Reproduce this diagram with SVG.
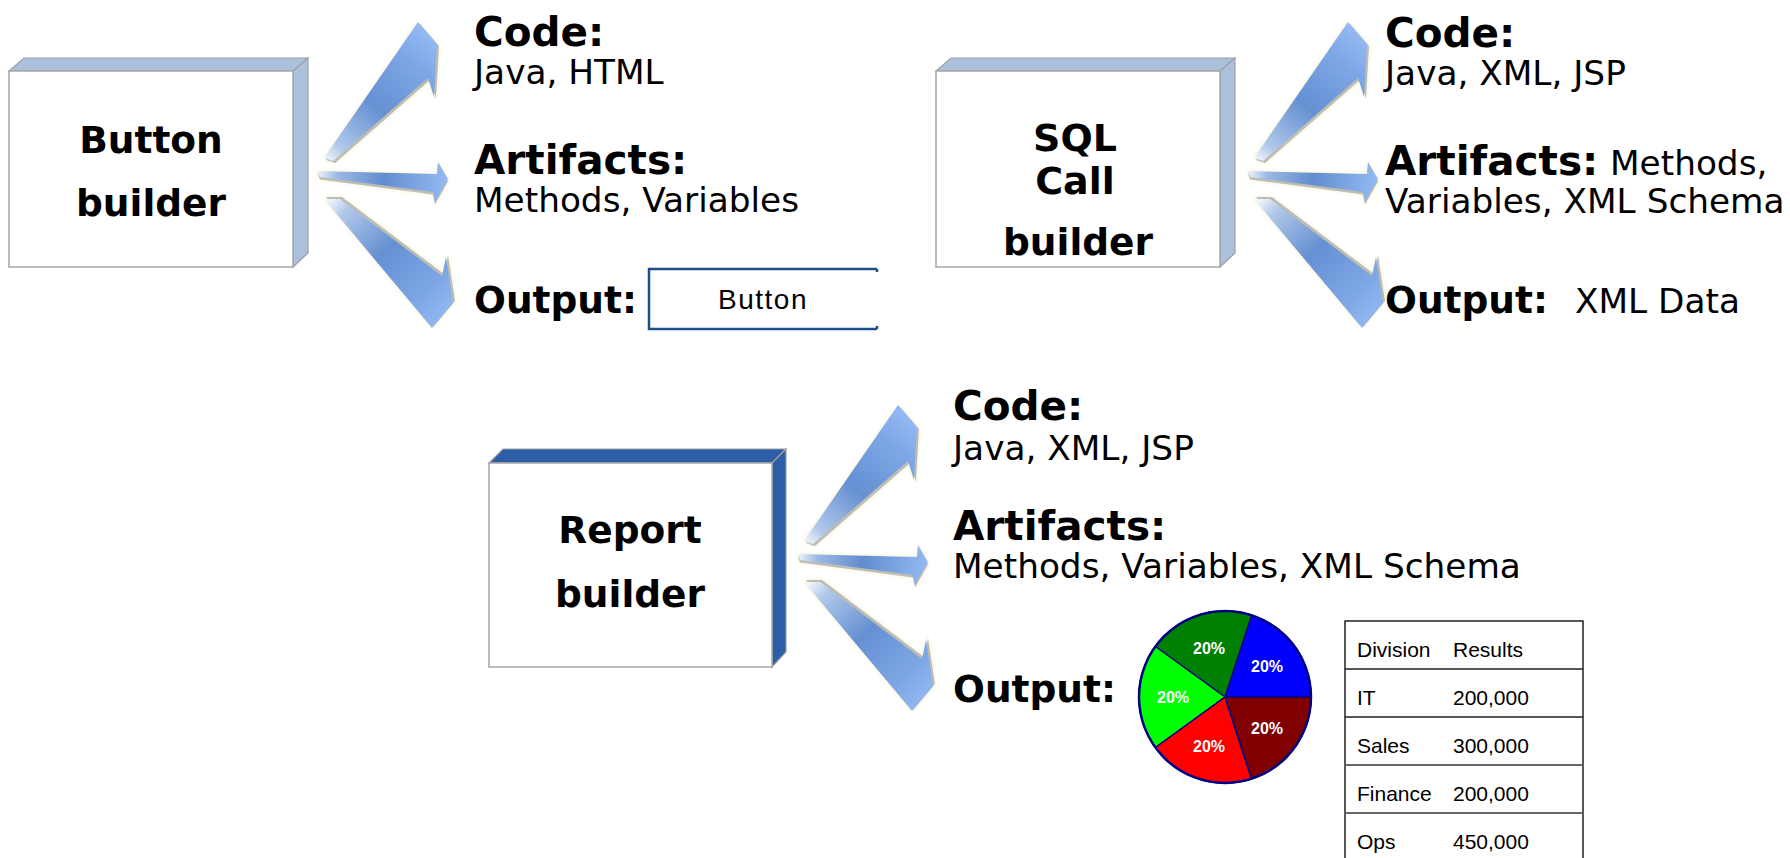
<svg xmlns="http://www.w3.org/2000/svg" xmlns:xlink="http://www.w3.org/1999/xlink" width="1790" height="858" viewBox="0 0 1790 858">
<style>
.title{font-family:"DejaVu Sans",Verdana,sans-serif;font-weight:bold;font-size:37.5px;fill:#000;text-anchor:middle}
.head{font-family:"DejaVu Sans",Verdana,sans-serif;font-weight:bold;font-size:40.5px;fill:#000}
.out{font-family:"DejaVu Sans",Verdana,sans-serif;font-weight:bold;font-size:37.5px;fill:#000}
.body{font-family:"DejaVu Sans",Verdana,sans-serif;font-size:34.3px;fill:#000}
.front{fill:#fff;stroke:#a6a6a6;stroke-width:1.5}
.face{fill:#abc0dc;stroke:#a0a0a0;stroke-width:1.2}
.faceDark{fill:#2b5ea6;stroke:#a0a0a0;stroke-width:1.2}
.pct{font-family:"Liberation Sans",Arial,sans-serif;font-weight:bold;font-size:16px;fill:#fff;text-anchor:middle}
.tbl{font-family:"Liberation Sans",Arial,sans-serif;font-size:21px;fill:#000}
.shadow{fill:#bdbdb3}
</style>
<defs>
<linearGradient id="gUp" gradientUnits="userSpaceOnUse" x1="325" y1="160" x2="432" y2="35">
<stop offset="0" stop-color="#f4f7fc"/><stop offset="0.12" stop-color="#b0c8ea"/><stop offset="0.45" stop-color="#6590d2"/><stop offset="0.8" stop-color="#7ea7e6"/><stop offset="1" stop-color="#94baf3"/>
</linearGradient>
<linearGradient id="gMid" gradientUnits="userSpaceOnUse" x1="318" y1="175" x2="448" y2="182">
<stop offset="0" stop-color="#eef3fb"/><stop offset="0.15" stop-color="#9ab8e5"/><stop offset="0.5" stop-color="#628dcf"/><stop offset="1" stop-color="#94baf3"/>
</linearGradient>
<linearGradient id="gDown" gradientUnits="userSpaceOnUse" x1="328" y1="200" x2="445" y2="322">
<stop offset="0" stop-color="#f4f7fc"/><stop offset="0.12" stop-color="#b0c8ea"/><stop offset="0.45" stop-color="#6590d2"/><stop offset="0.8" stop-color="#7ea7e6"/><stop offset="1" stop-color="#94baf3"/>
</linearGradient>
<filter id="glow" x="-20%" y="-20%" width="140%" height="140%">
<feGaussianBlur in="SourceAlpha" stdDeviation="2" result="b"/>
<feFlood flood-color="#f3efcf" result="c"/>
<feComposite in="c" in2="b" operator="in" result="g"/>
<feMerge><feMergeNode in="g"/><feMergeNode in="SourceGraphic"/></feMerge>
</filter>
<path id="pUp" d="M324,158 L418,22 L437,44 L434,97 L428,78 L333,161 Z"/>
<path id="pMid" d="M318,171 L437,174 L438,162 L448,179 L435,202 L433,192 L320,177 Z"/>
<path id="pDown" d="M324,199 L340,199 L442,276 L446,257 L453,303 L432,328 Z"/>
<g id="arrowSet">
<g filter="url(#glow)">
<use xlink:href="#pUp" class="shadow" transform="translate(2,2)"/>
<use xlink:href="#pUp" fill="url(#gUp)"/>
</g>
<g filter="url(#glow)">
<use xlink:href="#pMid" class="shadow" transform="translate(0,2.5)"/>
<use xlink:href="#pMid" fill="url(#gMid)"/>
</g>
<g filter="url(#glow)">
<use xlink:href="#pDown" class="shadow" transform="translate(2,-2)"/>
<use xlink:href="#pDown" fill="url(#gDown)"/>
</g>
</g>
</defs>
<rect width="1790" height="858" fill="#fff"/>

<g id="connectors">
<use xlink:href="#arrowSet"/>
<use xlink:href="#arrowSet" transform="translate(930,0)"/>
<use xlink:href="#arrowSet" transform="translate(480,383)"/>
</g>

<g id="node-button-builder">
<polygon class="face" points="9,71 24,58 308,58 293,71"/>
<polygon class="face" points="293,71 308,58 308,253 293,267"/>
<rect class="front" x="9" y="71" width="284" height="196"/>
<text class="title" x="151" y="153">Button</text>
<text class="title" x="151" y="216">builder</text>
</g>

<g id="node-sql-call-builder">
<polygon class="face" points="936,71 951,58 1235,58 1220,71"/>
<polygon class="face" points="1220,71 1235,58 1235,253 1220,267"/>
<rect class="front" x="936" y="71" width="284" height="196"/>
<text class="title" x="1075" y="151" style="font-size:38px">SQL</text>
<text class="title" x="1075" y="194" style="font-size:38px">Call</text>
<text class="title" x="1078" y="255">builder</text>
</g>

<g id="node-report-builder">
<polygon class="faceDark" points="489,463 503,449 786,449 772,463"/>
<polygon class="faceDark" points="772,463 786,449 786,652 772,667"/>
<rect class="front" x="489" y="463" width="283" height="204"/>
<text class="title" x="630" y="543">Report</text>
<text class="title" x="630" y="607">builder</text>
</g>

<g id="info-button">
<text class="head" x="474" y="46">Code:</text>
<text class="body" x="474" y="84">Java, HTML</text>
<text class="head" x="474" y="174">Artifacts:</text>
<text class="body" x="474" y="212">Methods, Variables</text>
<text class="out" x="474" y="313">Output:</text>
<g id="output-button">
<path d="M877,269 H649 V329 H877" fill="none" stroke="#1f4e8c" stroke-width="2.5"/>
<path d="M877,269 v3 M877,329 v-3" fill="none" stroke="#1f4e8c" stroke-width="2.5"/>
<text x="763" y="309" font-family="'Liberation Sans',Arial,sans-serif" font-size="28" letter-spacing="1.5" text-anchor="middle" fill="#000">Button</text>
</g>
</g>

<g id="info-sql">
<text class="head" x="1385" y="47">Code:</text>
<text class="body" x="1385" y="85">Java, XML, JSP</text>
<text x="1385" y="175"><tspan class="head">Artifacts:</tspan><tspan class="body" x="1610">Methods,</tspan></text>
<text class="body" x="1385" y="213">Variables, XML Schema</text>
<text class="out" x="1385" y="313">Output:</text>
<text class="body" x="1575" y="313">XML Data</text>
</g>

<g id="info-report">
<text class="head" x="953" y="420">Code:</text>
<text class="body" x="953" y="460">Java, XML, JSP</text>
<text class="head" x="953" y="540">Artifacts:</text>
<text class="body" x="953" y="578">Methods, Variables, XML Schema</text>
<text class="out" x="953" y="702">Output:</text>
</g>

<g id="output-pie" stroke="#000080" stroke-width="1.5" stroke-linejoin="round">
<path d="M1225,697 L1311,697 A86,86 0 0 0 1251.6,615.2 Z" fill="#0000ff"/>
<path d="M1225,697 L1251.6,615.2 A86,86 0 0 0 1155.4,646.5 Z" fill="#008000"/>
<path d="M1225,697 L1155.4,646.5 A86,86 0 0 0 1155.4,747.5 Z" fill="#00ff00"/>
<path d="M1225,697 L1155.4,747.5 A86,86 0 0 0 1251.6,778.8 Z" fill="#ff0000"/>
<path d="M1225,697 L1251.6,778.8 A86,86 0 0 0 1311,697 Z" fill="#800000"/>
<circle cx="1225" cy="697" r="86" fill="none" stroke-width="2.5"/>
<g stroke="none">
<text class="pct" x="1267" y="672">20%</text>
<text class="pct" x="1209" y="654">20%</text>
<text class="pct" x="1173" y="703">20%</text>
<text class="pct" x="1209" y="752">20%</text>
<text class="pct" x="1267" y="734">20%</text>
</g>
</g>

<g id="output-table">
<rect x="1345" y="621" width="238" height="260" fill="#fff" stroke="#222" stroke-width="1.5"/>
<path d="M1345,669 H1583 M1345,717 H1583" stroke="#222" stroke-width="1.5"/>
<path d="M1345,765 H1583 M1345,813 H1583" stroke="#666" stroke-width="1.8"/>
<text class="tbl" x="1357" y="657">Division</text><text class="tbl" x="1453" y="657">Results</text>
<text class="tbl" x="1357" y="705">IT</text><text class="tbl" x="1453" y="705">200,000</text>
<text class="tbl" x="1357" y="753">Sales</text><text class="tbl" x="1453" y="753">300,000</text>
<text class="tbl" x="1357" y="801">Finance</text><text class="tbl" x="1453" y="801">200,000</text>
<text class="tbl" x="1357" y="849">Ops</text><text class="tbl" x="1453" y="849">450,000</text>
</g>
</svg>
